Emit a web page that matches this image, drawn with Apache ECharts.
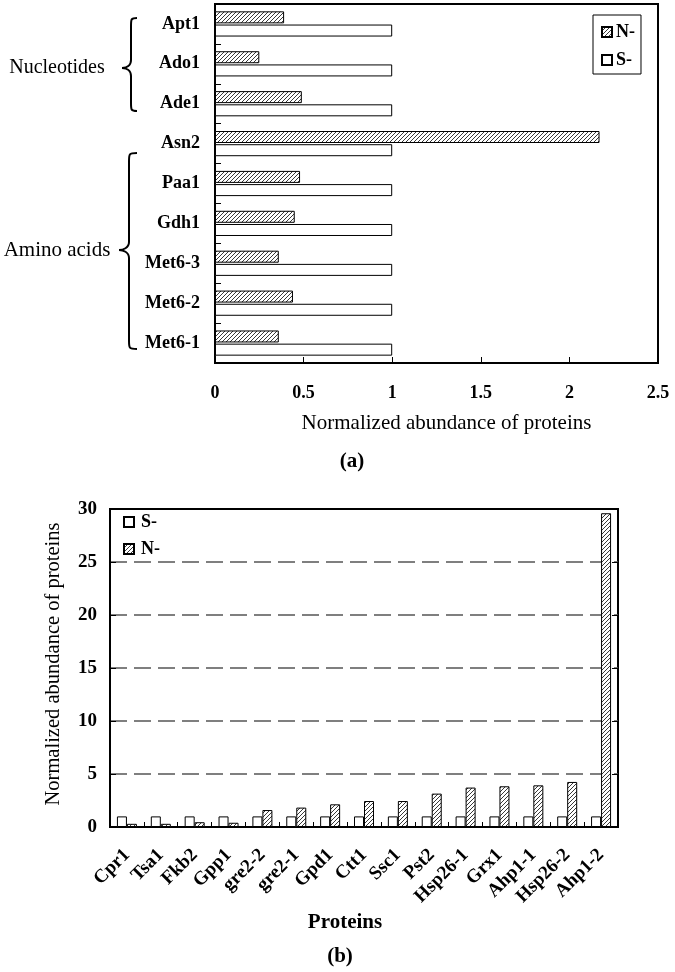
<!DOCTYPE html>
<html>
<head>
<meta charset="utf-8">
<script src="https://cdn.jsdelivr.net/npm/echarts@6/dist/echarts.min.js"></script>
<style>
html,body{margin:0;padding:0;background:#fff;}
#main{width:675px;height:972px;}
</style>
</head>
<body>
<div id="main"></div>
<script>
// ---------- data ----------
const catsA = ['Apt1','Ado1','Ade1','Asn2','Paa1','Gdh1','Met6-3','Met6-2','Met6-1'];
const nA = [0.39,0.25,0.49,2.17,0.48,0.45,0.36,0.44,0.36];
const sA = [1,1,1,1,1,1,1,1,1];
const ticksA = [0,0.5,1,1.5,2,2.5];

const catsB = ['Cpr1','Tsa1','Fkb2','Gpp1','gre2-2','gre2-1','Gpd1','Ctt1','Ssc1','Pst2','Hsp26-1','Grx1','Ahp1-1','Hsp26-2','Ahp1-2'];
const sB = [1,1,1,1,1,1,1,1,1,1,1,1,1,1,1];
const nB = [0.3,0.3,0.45,0.4,1.6,1.83,2.14,2.45,2.45,3.15,3.72,3.84,3.93,4.25,29.6];
const ticksB = [0,5,10,15,20,25,30];

const groupsA = ['Nucleotides','Amino acids'];

// ---------- hatch pattern ----------
function hatch(){
  const c = document.createElement('canvas');
  c.width = 4; c.height = 4;
  const g = c.getContext('2d');
  g.fillStyle = '#fff'; g.fillRect(0,0,4,4);
  g.strokeStyle = '#222'; g.lineWidth = 0.9;
  g.beginPath();
  g.moveTo(0,4); g.lineTo(4,0);
  g.moveTo(-1,1); g.lineTo(1,-1);
  g.moveTo(3,5); g.lineTo(5,3);
  g.stroke();
  return {image:c, repeat:'repeat'};
}
const pat = hatch();
const F = 'Liberation Serif';

function brace(xEnd, xMid, xTip, yTop, yTip, yBot){
  const r = 8;
  const st = {stroke:'#000', lineWidth:2, fill:null};
  return [
    {type:'bezierCurve', shape:{x1:xEnd,y1:yTop,cpx1:xMid,cpy1:yTop,cpx2:xMid,cpy2:yTop+1,x2:xMid,y2:yTop+r}, style:st},
    {type:'line', shape:{x1:xMid,y1:yTop+r,x2:xMid,y2:yTip-r}, style:st},
    {type:'bezierCurve', shape:{x1:xMid,y1:yTip-r,cpx1:xMid,cpy1:yTip-2,cpx2:xTip+4,cpy2:yTip,x2:xTip,y2:yTip}, style:st},
    {type:'bezierCurve', shape:{x1:xTip,y1:yTip,cpx1:xTip+4,cpy1:yTip,cpx2:xMid,cpy2:yTip+2,x2:xMid,y2:yTip+r}, style:st},
    {type:'line', shape:{x1:xMid,y1:yTip+r,x2:xMid,y2:yBot-r}, style:st},
    {type:'bezierCurve', shape:{x1:xMid,y1:yBot-r,cpx1:xMid,cpy1:yBot-1,cpx2:xMid,cpy2:yBot,x2:xEnd,y2:yBot}, style:st}
  ];
}

const chart = echarts.init(document.getElementById('main'), null, {renderer:'canvas'});

const barBorder = {borderColor:'#000', borderWidth:1};

const option = {
  animation:false,
  backgroundColor:'#fff',
  textStyle:{fontFamily:F, color:'#000'},
  grid:[
    {left:215, top:4, width:443, height:359, show:true, borderColor:'#000', borderWidth:2, backgroundColor:'transparent'},
    {left:110, top:509, width:508, height:318, show:true, borderColor:'#000', borderWidth:2, backgroundColor:'transparent'}
  ],
  legend:[
    {data:['N-','S-'], orient:'vertical', left:593, top:15, padding:[8,6,5,8], itemGap:10,
     itemWidth:10, itemHeight:10, borderColor:'#000', borderWidth:1, icon:'rect',
     textStyle:{fontFamily:F, fontSize:18, fontWeight:'bold', color:'#000', padding:[0,0,0,-1]}},
    {data:['S-','N-'], orient:'vertical', left:123, top:513, padding:0, itemGap:9,
     itemWidth:10, itemHeight:10, icon:'rect',
     textStyle:{fontFamily:F, fontSize:18, fontWeight:'bold', color:'#000', padding:[0,0,0,2]}}
  ],
  xAxis:[
    {gridIndex:0, type:'value', min:ticksA[0], max:ticksA[ticksA.length-1], interval:0.5,
     axisLine:{show:true, lineStyle:{color:'#000', width:2}},
     axisTick:{show:true, inside:true, length:6, lineStyle:{color:'#000'}},
     axisLabel:{fontFamily:F, fontSize:18, fontWeight:'bold', color:'#000', margin:21},
     splitLine:{show:false},
     name:'Normalized abundance of proteins', nameLocation:'middle', nameGap:50,
     nameTextStyle:{fontFamily:F, fontSize:21, color:'#000', padding:[0,0,0,20]}},
    {gridIndex:1, type:'category', data:catsB,
     axisLine:{show:true, lineStyle:{color:'#000', width:2}},
     axisTick:{show:true, inside:true, length:5, lineStyle:{color:'#000'}},
     axisLabel:{fontFamily:F, fontSize:19, fontWeight:'bold', color:'#000', rotate:45, interval:0, margin:25}}
  ],
  yAxis:[
    {gridIndex:0, type:'category', data:catsA, inverse:true,
     axisLine:{show:true, lineStyle:{color:'#000', width:2}},
     axisTick:{show:true, inside:true, length:6, lineStyle:{color:'#000'}},
     axisLabel:{fontFamily:F, fontSize:18, fontWeight:'bold', color:'#000', margin:15, padding:[5,0,0,0]}},
    {gridIndex:1, type:'value', min:ticksB[0], max:ticksB[ticksB.length-1], interval:5,
     axisLine:{show:true, lineStyle:{color:'#000', width:2}},
     axisTick:{show:true, inside:true, length:6, lineStyle:{color:'#000'}},
     axisLabel:{fontFamily:F, fontSize:19, fontWeight:'bold', color:'#000', margin:13},
     splitLine:{show:true, showMinLine:false, showMaxLine:false, lineStyle:{color:'#555', width:1.5, type:[17,7]}},
     name:'Normalized abundance of proteins', nameLocation:'middle', nameGap:46,
     nameTextStyle:{fontFamily:F, fontSize:20.5, color:'#000', padding:[0,0,0,8]}},
    {gridIndex:1, type:'value', position:'right', min:ticksB[0], max:ticksB[ticksB.length-1], interval:5,
     axisLine:{show:false}, axisTick:{show:true, inside:true, length:6, lineStyle:{color:'#000'}},
     axisLabel:{show:false}, splitLine:{show:false}}
  ],
  series:[
    {name:'N-', type:'bar', xAxisIndex:0, yAxisIndex:0, data:nA, barWidth:12, barGap:'10%',
     itemStyle:Object.assign({color:pat}, barBorder)},
    {name:'S-', type:'bar', xAxisIndex:0, yAxisIndex:0, data:sA, barWidth:12, barGap:'10%',
     itemStyle:Object.assign({color:'#fff'}, barBorder)},
    {name:'S-', type:'bar', xAxisIndex:1, yAxisIndex:1, data:sB, barWidth:10, barGap:'0%',
     itemStyle:Object.assign({color:'#fff'}, barBorder)},
    {name:'N-', type:'bar', xAxisIndex:1, yAxisIndex:1, data:nB, barWidth:10, barGap:'0%',
     itemStyle:Object.assign({color:pat}, barBorder)}
  ],
  graphic:[].concat(
    brace(137,131,122,18,68,111),
    brace(137,129,119,153,250,349),
    [
      {type:'text', x:57, y:68, style:{text:groupsA[0], font:'20px "Liberation Serif"', fill:'#000', textAlign:'center', textVerticalAlign:'middle'}},
      {type:'text', x:57, y:250, style:{text:groupsA[1], font:'21px "Liberation Serif"', fill:'#000', textAlign:'center', textVerticalAlign:'middle'}},
      {type:'text', x:352, y:462, style:{text:'(a)', font:'bold 21px "Liberation Serif"', fill:'#000', textAlign:'center', textVerticalAlign:'middle'}},
      {type:'text', x:345, y:923, style:{text:'Proteins', font:'bold 21px "Liberation Serif"', fill:'#000', textAlign:'center', textVerticalAlign:'middle'}},
      {type:'text', x:340, y:957, style:{text:'(b)', font:'bold 21px "Liberation Serif"', fill:'#000', textAlign:'center', textVerticalAlign:'middle'}}
    ]
  )
};
chart.setOption(option);
</script>
</body>
</html>
